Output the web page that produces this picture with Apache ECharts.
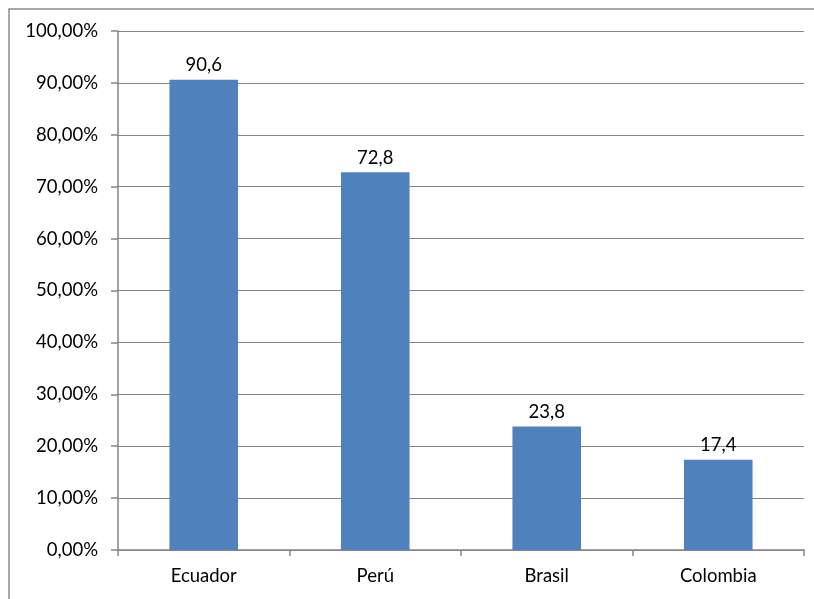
<!DOCTYPE html>
<html>
<head>
<meta charset="utf-8">
<script src="https://cdn.jsdelivr.net/npm/echarts@6/dist/echarts.min.js"></script>
<style>
  html, body { margin: 0; padding: 0; background: #fff; }
  #chart { width: 814px; height: 599px; }
</style>
</head>
<body>
<div id="chart"></div>
<script>
// Share per country (percent)
const categories = ['Ecuador', 'Perú', 'Brasil', 'Colombia'];
const values = [90.6, 72.8, 23.8, 17.4];
const yMin = 0;
const yMax = 100;
const yStep = 10;

const fmtComma = (v, d) => v.toFixed(d).replace('.', ',');

const chart = echarts.init(document.getElementById('chart'), null, { renderer: 'canvas' });
const FONT = 'Lato, "Open Sans", sans-serif';
const FS = 18.5;

chart.setOption({
  animation: false,
  backgroundColor: '#ffffff',
  graphic: [{
    type: 'rect',
    shape: { x: 9, y: 9, width: 900, height: 700 },
    style: { fill: 'none', stroke: '#8c8c8c', lineWidth: 1.5 },
    silent: true
  }],
  grid: { left: 118, right: 10, top: 31, bottom: 49, containLabel: false },
  xAxis: {
    type: 'category',
    data: categories,
    boundaryGap: true,
    axisLine: { lineStyle: { color: '#868686', width: 1.5 } },
    axisTick: { show: true, alignWithLabel: false, length: 6, lineStyle: { color: '#868686', width: 1.5 } },
    axisLabel: { color: '#000', fontFamily: FONT, fontSize: FS, margin: 17 }
  },
  yAxis: {
    type: 'value',
    min: yMin,
    max: yMax,
    interval: yStep,
    axisLine: { show: true, lineStyle: { color: '#868686', width: 1.5 } },
    axisTick: { show: true, length: 7, lineStyle: { color: '#868686', width: 1.5 } },
    splitLine: { show: true, lineStyle: { color: '#868686', width: 1.2 } },
    axisLabel: {
      color: '#000', fontFamily: FONT, fontSize: FS, margin: 20,
      formatter: v => fmtComma(v, 2) + '%'
    }
  },
  series: [{
    type: 'bar',
    data: values,
    barWidth: '40%',
    itemStyle: { color: '#4F81BD' },
    label: {
      show: true,
      position: 'top',
      distance: 5,
      color: '#000',
      fontFamily: FONT,
      fontSize: FS,
      formatter: p => fmtComma(p.value, 1)
    }
  }]
});
</script>
</body>
</html>
